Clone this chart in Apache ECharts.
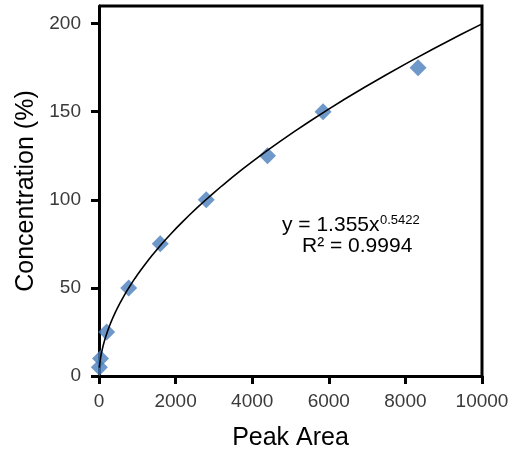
<!DOCTYPE html>
<html>
<head>
<meta charset="utf-8">
<script src="https://cdn.jsdelivr.net/npm/echarts@6/dist/echarts.min.js"></script>
<style>
  html, body { margin: 0; padding: 0; background: #fff; }
  #chart { width: 518px; height: 457px; }
</style>
</head>
<body>
<div id="chart"></div>
<script>
// Calibration measurements
const peakArea = [10, 40, 200, 775, 1600, 2800, 4400, 5850, 8330];
const concentration = [5, 10, 25, 50, 75, 100, 125, 150, 175];

// Axis ticks
const xTicks = [0, 2000, 4000, 6000, 8000, 10000];
const yTicks = [0, 50, 100, 150, 200];

// Power-law trendline coefficients, y = a * x^b
const fitA = 1.355;
const fitB = 0.5422;
const fitR2 = 0.9994;

// Trendline sampled from the fitted coefficients (denser near the origin)
const trend = [];
for (let x = 10; x < 10000; x *= 1.08) trend.push([x, fitA * Math.pow(x, fitB)]);
trend.push([10000, fitA * Math.pow(10000, fitB)]);

const textColor = '#3a3a3a';
const font = 'Liberation Sans, Arial, sans-serif';
const gridBox = { left: 99, right: 36, top: 6, bottom: 81 };
const W = 518, H = 457;

function axisLineStyle() {
  return { show: true, onZero: false, lineStyle: { color: '#000', width: 3 } };
}

const chart = echarts.init(document.getElementById('chart'), null, { renderer: 'canvas' });
chart.setOption({
  animation: false,
  backgroundColor: '#fff',
  grid: Object.assign({ outerBoundsMode: 'none' }, gridBox),
  xAxis: {
    type: 'value', min: 0, max: 10000, interval: 2000, position: 'bottom',
    name: 'Peak Area', nameLocation: 'middle', nameGap: 50,
    nameTextStyle: { fontSize: 25, color: '#000', fontFamily: font },
    axisLine: axisLineStyle(),
    axisTick: { show: true, inside: false, length: 8, lineStyle: { color: '#000', width: 3 }, customValues: xTicks },
    axisLabel: { fontSize: 19, color: textColor, fontFamily: font, margin: 16, customValues: xTicks,
                 formatter: v => String(v) },
    splitLine: { show: false }
  },
  yAxis: {
    type: 'value', min: 0, max: 210, interval: 50, position: 'left',
    name: 'Concentration (%)', nameLocation: 'middle', nameGap: 54, nameRotate: 90,
    nameTextStyle: { fontSize: 25, color: '#000', fontFamily: font },
    axisLine: axisLineStyle(),
    axisTick: { show: true, inside: false, length: 8, lineStyle: { color: '#000', width: 3 }, customValues: yTicks },
    axisLabel: { fontSize: 19, color: textColor, fontFamily: font, margin: 18, customValues: yTicks },
    splitLine: { show: false }
  },
  series: [
    {
      type: 'scatter',
      data: peakArea.map((x, i) => [x, concentration[i]]),
      symbol: 'diamond', symbolSize: 17,
      itemStyle: { color: '#4a7ebb' },
      z: 2
    },
    {
      type: 'line',
      data: trend,
      showSymbol: false, smooth: false,
      lineStyle: { color: '#000', width: 1.6 },
      z: 3
    }
  ],
  graphic: [
    {
      // plot frame (top and right edges)
      type: 'polyline', z: 5, silent: true,
      shape: { points: [[gridBox.left, gridBox.top], [W - gridBox.right, gridBox.top], [W - gridBox.right, H - gridBox.bottom]] },
      style: { stroke: '#000', lineWidth: 3, fill: null }
    },
    {
      type: 'text', left: 282, top: 215, z: 10,
      style: { text: 'y = ' + fitA.toFixed(3) + 'x', fontSize: 21, fontFamily: font, fill: '#000' }
    },
    {
      type: 'text', left: 380, top: 214, z: 10,
      style: { text: String(fitB), fontSize: 13, fontFamily: font, fill: '#000' }
    },
    {
      type: 'text', left: 302, top: 236, z: 10,
      style: { text: 'R² = ' + fitR2, fontSize: 21, fontFamily: font, fill: '#000' }
    }
  ]
});
</script>
</body>
</html>
